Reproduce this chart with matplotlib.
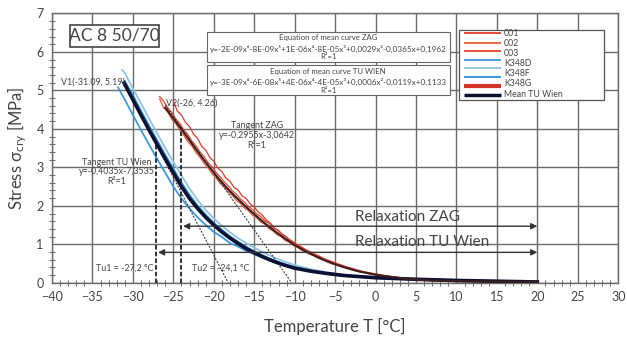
import matplotlib
matplotlib.use("Agg")
import matplotlib.pyplot as plt
from matplotlib.patches import Rectangle
from matplotlib.ticker import MultipleLocator

plt.rcParams['font.family'] = ['Lato', 'DejaVu Sans']
plt.rcParams['mathtext.fontset'] = 'custom'
plt.rcParams['mathtext.rm'] = 'Lato'
plt.rcParams['mathtext.it'] = 'Lato'

# ---------------- data ----------------
T_tu = [-31.09, -30, -29, -28, -27, -26, -25, -24, -23, -22, -21, -20, -19, -18, -17, -16, -15, -14, -13,
        -12, -11, -10, -8, -6, -4, -2, 0, 5, 10, 15, 20]
S_tu = [5.19, 4.76, 4.36, 3.97, 3.59, 3.22, 2.86, 2.50, 2.19, 1.93, 1.70, 1.50, 1.32, 1.16, 1.02, 0.89, 0.78,
        0.68, 0.59, 0.51, 0.44, 0.38, 0.30, 0.24, 0.19, 0.16, 0.13, 0.09, 0.06, 0.04, 0.02]

T_D = [-31.85, -31, -30, -29, -28, -27, -26, -25, -24, -23, -22, -21, -20, -19, -18, -17, -16, -15, -14, -13,
       -12, -11, -10, -8, -6, -4, -2, 0, 5, 10, 15, 20]
S_D = [5.08, 4.76, 4.36, 3.97, 3.59, 3.22, 2.86, 2.50, 2.19, 1.93, 1.70, 1.50, 1.32, 1.19, 1.03, 0.94, 0.83,
       0.74, 0.65, 0.57, 0.49, 0.43, 0.37, 0.29, 0.23, 0.18, 0.15, 0.12, 0.08, 0.05, 0.03, 0.02]

T_F = [-31.3, -31, -30, -29, -28, -27, -26, -25, -24, -23, -22, -21, -20, -19, -18, -17, -16, -15, -14, -13,
       -12, -11, -10, -8, -6, -4, -2, 0, 5, 10, 15, 20]
S_F = [5.53, 5.45, 5.05, 4.66, 4.27, 3.88, 3.50, 3.14, 2.79, 2.45, 2.15, 1.89, 1.67, 1.48, 1.31, 1.16, 1.03,
       0.91, 0.80, 0.70, 0.61, 0.53, 0.46, 0.35, 0.27, 0.21, 0.17, 0.14, 0.10, 0.07, 0.05, 0.03]

T_G = [-31.0, -30, -29, -28, -27, -26, -25, -24, -23, -22, -21, -20, -19, -18, -17, -16, -15, -14, -13,
       -12, -11, -10, -8, -6, -4, -2, 0, 5, 10, 15, 20]
S_G = [5.25, 4.88, 4.48, 4.09, 3.71, 3.33, 2.97, 2.61, 2.29, 2.01, 1.77, 1.56, 1.38, 1.21, 1.07, 0.94, 0.82,
       0.72, 0.62, 0.54, 0.47, 0.41, 0.32, 0.25, 0.20, 0.16, 0.13, 0.09, 0.06, 0.04, 0.02]

T_zag = [-26, -25, -24, -23, -22, -21, -20, -19, -18, -17, -16, -15, -14, -13, -12, -11, -10, -9, -8, -7, -6,
         -5, -4, -3, -2, -1, 0, 2, 4, 6, 8, 10, 15, 20]
S_zag = [4.55, 4.27, 3.99, 3.70, 3.41, 3.13, 2.86, 2.61, 2.38, 2.17, 1.97, 1.78, 1.60, 1.43, 1.27, 1.12, 0.98,
         0.86, 0.75, 0.65, 0.56, 0.48, 0.41, 0.35, 0.29, 0.25, 0.21, 0.15, 0.10, 0.07, 0.05, 0.04, 0.03, 0.02]

T_r = [-26.7, -26.2, -25.7, -25.2, -24.7, -24.2, -23.7, -23.2, -22.7, -22.2, -21.7, -21.2, -20.7, -20.2, -19.7,
       -19.2, -18.7, -18.2, -17.7, -17.2, -16.7, -16.2, -15.7, -15.2, -14.7, -14.2, -13.7, -13.2, -12.7, -12.2,
       -11.7, -11.2, -10.7, -10.2, -9.7, -9.2, -8.7, -8.2, -7.7, -7.2, -6.5, -5.5, -4.5, -3.5, -2.5, -1.5, -0.5,
       1, 3, 5, 8, 12, 16, 20]
S_002 = [4.78, 4.55, 4.44, 4.25, 4.14, 3.95, 3.83, 3.66, 3.55, 3.38, 3.26, 3.10, 2.98, 2.83, 2.72, 2.58, 2.49,
         2.36, 2.27, 2.13, 2.06, 1.94, 1.87, 1.75, 1.69, 1.58, 1.52, 1.41, 1.35, 1.25, 1.20, 1.10, 1.06, 0.97,
         0.93, 0.85, 0.81, 0.74, 0.71, 0.65, 0.59, 0.50, 0.44, 0.37, 0.31, 0.27, 0.22, 0.17, 0.12, 0.08, 0.05,
         0.04, 0.03, 0.02]
S_003 = [4.84, 4.72, 4.55, 4.43, 4.26, 4.14, 3.97, 3.85, 3.68, 3.56, 3.40, 3.28, 3.12, 3.01, 2.86, 2.75, 2.62,
         2.52, 2.39, 2.30, 2.18, 2.09, 1.98, 1.90, 1.79, 1.72, 1.61, 1.55, 1.44, 1.38, 1.29, 1.22, 1.13, 1.07,
         0.99, 0.94, 0.87, 0.82, 0.76, 0.72, 0.64, 0.56, 0.48, 0.41, 0.35, 0.29, 0.25, 0.19, 0.13, 0.09, 0.06,
         0.04, 0.03, 0.02]

T_001 = [-25.0, -24.5, -24.0, -23.5, -23.0, -22.5, -22.0, -21.5, -21.0, -20.5, -20.0, -19.5, -19.0, -18.5, -18.0,
         -17.5, -17.0, -16.5, -16.0, -15.5, -15.0, -14.5, -14.0, -13.5, -13.0, -12.5, -12.0, -11.5, -11.0, -10.5,
         -10.0, -9.5, -9.0, -8.5, -8.0, -7.5, -7.0, -6.5, -5.5, -4.5, -3.5, -2.5, -1.5, -0.5, 1, 3, 5, 8, 12, 16, 20]
S_001 = [4.72, 4.46, 4.36, 4.17, 4.06, 3.86, 3.75, 3.55, 3.45, 3.26, 3.16, 2.98, 2.89, 2.72, 2.64, 2.48, 2.41,
         2.26, 2.19, 2.05, 1.97, 1.84, 1.76, 1.63, 1.55, 1.42, 1.36, 1.25, 1.19, 1.08, 1.03, 0.94, 0.90, 0.81,
         0.78, 0.70, 0.68, 0.61, 0.53, 0.46, 0.39, 0.33, 0.28, 0.24, 0.18, 0.13, 0.09, 0.06, 0.04, 0.02, 0.01]

legend_labels = ["001", "002", "003", "K348D", "K348F", "K348G", "Mean TU Wien"]

V1 = (-31.09, 5.19)
V2 = (-26, 4.26)
Tu1 = -27.2
Tu2 = -24.1
tan_tu = (-0.4035, -7.3535)
tan_zag = (-0.2955, -3.0642)
S_arrow_zag = 1.47
S_arrow_tu = 0.79
T_end = 20

# ---------------- colours ----------------
RED1 = "#e2382a"
RED2 = "#ef5a3c"
RED3 = "#e4452e"
BLUE_D = "#3a9bdc"
BLUE_F = "#8ec3e8"
BLUE_G = "#2f8fd6"
NAVY = "#0b1133"
ZAGC = "#3a1f1f"
GRID = "#6a6a6a"
TXT = "#444444"

fig = plt.figure(figsize=(6.27, 3.37), dpi=100)
ax = fig.add_axes([0.083, 0.161, 0.903, 0.799])
ax.set_xlim(-40, 30)
ax.set_ylim(0, 7)

ax.xaxis.set_major_locator(MultipleLocator(5))
ax.yaxis.set_major_locator(MultipleLocator(1))
ax.xaxis.set_minor_locator(MultipleLocator(1))
ax.yaxis.set_minor_locator(MultipleLocator(0.2))
ax.grid(which='major', color=GRID, lw=1.0)
ax.set_axisbelow(True)
ax.tick_params(which='major', length=0, labelsize=9, labelcolor=TXT, pad=6)
ax.tick_params(which='minor', direction='inout', length=4, width=0.7, color=GRID)
for sp in ax.spines.values():
    sp.set_color(GRID)
    sp.set_linewidth(1.0)

# ---------- curves ----------
ax.plot(T_D, S_D, color=BLUE_D, lw=1.3, zorder=3)
ax.plot(T_F, S_F, color=BLUE_F, lw=1.3, zorder=3)
ax.plot(T_G, S_G, color=BLUE_G, lw=1.1, zorder=3)
ax.plot(T_tu, S_tu, color=NAVY, lw=2.6, zorder=4)

ax.plot(T_r, S_002, color=RED2, lw=0.9, zorder=3)
ax.plot(T_r, S_003, color=RED3, lw=0.9, zorder=3)
ax.plot(T_001, S_001, color=RED1, lw=0.9, zorder=3)
ax.plot(T_zag, S_zag, color=ZAGC, lw=1.5, zorder=4)

# ---------- tangents ----------
x0_tu = -tan_tu[1] / tan_tu[0]
x0_zag = -tan_zag[1] / tan_zag[0]
ax.plot([V1[0], x0_tu], [tan_tu[0] * V1[0] + tan_tu[1], 0], color='#222', lw=0.7,
        ls=(0, (2, 1.5)), zorder=3.5)
ax.plot([V2[0], x0_zag], [tan_zag[0] * V2[0] + tan_zag[1], 0], color='#222', lw=0.7,
        ls=(0, (2, 1.5)), zorder=3.5)
ax.plot([Tu1, Tu1], [0, tan_tu[0] * Tu1 + tan_tu[1]], color='#222', lw=1.3,
        ls=(0, (2.5, 1.2)), zorder=3.5)
ax.plot([Tu2, Tu2], [0, tan_zag[0] * Tu2 + tan_zag[1]], color='#222', lw=1.3,
        ls=(0, (2.5, 1.2)), zorder=3.5)

# ---------- arrows ----------
for s, t0 in [(S_arrow_zag, Tu2), (S_arrow_tu, Tu1)]:
    ax.annotate('', xy=(T_end, s), xytext=(t0 + 0.3, s),
                arrowprops=dict(arrowstyle='<|-|>', color='#333', lw=1.0,
                                mutation_scale=9, shrinkA=0, shrinkB=0), zorder=5)

ax.text(-2.5, 1.71, "Relaxation ZAG", fontsize=11, color=TXT, va='center', ha='left', zorder=6)
ax.text(-2.5, 1.06, "Relaxation TU Wien", fontsize=11, color=TXT, va='center', ha='left', zorder=6)

# ---------- small annotations ----------
fs = 6.4
ax.text(-31.0, 5.21, f"V1({V1[0]}, {V1[1]})", fontsize=fs, color=TXT, ha='right', va='center', zorder=6)
ax.text(-25.9, 4.67, f"V2({V2[0]}, {V2[1]})", fontsize=fs, color=TXT, ha='left', va='center', zorder=6)
ax.text(-14.7, 4.10, "Tangent ZAG", fontsize=fs, color=TXT, ha='center', va='center', zorder=6)
ax.text(-14.7, 3.84, "y=-0,2955x-3,0642", fontsize=fs, color=TXT, ha='center', va='center', zorder=6)
ax.text(-14.7, 3.58, "R²=1", fontsize=fs, color=TXT, ha='center', va='center', zorder=6)
ax.text(-32.0, 3.13, "Tangent TU Wien", fontsize=fs, color=TXT, ha='center', va='center', zorder=6)
ax.text(-32.0, 2.88, "y=-0,4035x-7,3535", fontsize=fs, color=TXT, ha='center', va='center', zorder=6)
ax.text(-32.0, 2.62, "R²=1", fontsize=fs, color=TXT, ha='center', va='center', zorder=6)
ax.text(-27.5, 0.38, "Tu1 = -27,2 °C", fontsize=fs, color=TXT, ha='right', va='center', zorder=6)
ax.text(-22.7, 0.38, "Tu2 = -24,1 °C", fontsize=fs, color=TXT, ha='left', va='center', zorder=6)

# ---------- AC box ----------
ax.add_patch(Rectangle((-37.8, 6.13), 11.0, 0.57, facecolor='white', edgecolor='#444', lw=1.2, zorder=6))
ax.text(-32.3, 6.42, "AC 8 50/70", fontsize=12.5, color=TXT, ha='center', va='center', zorder=7)

# ---------- equation boxes ----------
for (ytop, ybot, title, eq, ys) in [
        (6.52, 5.74, "Equation of mean curve ZAG",
         "y=-2E-09x⁶-8E-09x⁵+1E-06x⁴-8E-05x³+0,0029x²-0,0365x+0,1962", (6.37, 6.09, 5.87)),
        (5.65, 4.87, "Equation of mean curve TU WIEN",
         "y=-3E-09x⁶-6E-08x⁵+4E-06x⁴-4E-05x³+0,0006x²-0,0119x+0,1133", (5.48, 5.21, 4.99))]:
    ax.add_patch(Rectangle((-20.9, ybot), 30.1, ytop - ybot, facecolor='white', edgecolor='#666',
                           lw=0.8, zorder=6))
    ax.text(-5.85, ys[0], title, fontsize=5.6, color=TXT, ha='center', va='center', zorder=7)
    ax.text(-5.85, ys[1], eq, fontsize=5.9, color=TXT, ha='center', va='center', zorder=7)
    ax.text(-5.85, ys[2], "R²=1", fontsize=5.6, color=TXT, ha='center', va='center', zorder=7)

# ---------- legend (manual) ----------
ax.add_patch(Rectangle((10.33, 4.75), 17.9, 1.83, facecolor='white', edgecolor='#555', lw=0.9, zorder=6))
leg_line_y = [6.48, 6.23, 6.03, 5.78, 5.57, 5.34, 5.11, 4.89]
leg_cols = [RED1, RED2, RED3, BLUE_D, BLUE_F, BLUE_G, "#d3312a", NAVY]
leg_lw = [1.3, 1.3, 1.3, 1.3, 1.3, 1.3, 3.0, 2.5]
for y, c, w in zip(leg_line_y, leg_cols, leg_lw):
    ax.plot([10.95, 15.45], [y, y], color=c, lw=w, zorder=7, solid_capstyle='butt')
leg_text_y = [6.48, 6.22, 5.96, 5.70, 5.44, 5.19, 4.89]
for y, lab in zip(leg_text_y, legend_labels):
    ax.text(15.86, y, lab, fontsize=6.3, color=TXT, ha='left', va='center', zorder=7)

# ---------- labels ----------
ax.set_xlabel("Temperature T [°C]", fontsize=12, color=TXT, labelpad=11)
ax.set_ylabel("Stress σ$_{\\mathrm{cry}}$ [MPa]", fontsize=12, color=TXT, labelpad=5)

fig.savefig("out.png", dpi=100)
